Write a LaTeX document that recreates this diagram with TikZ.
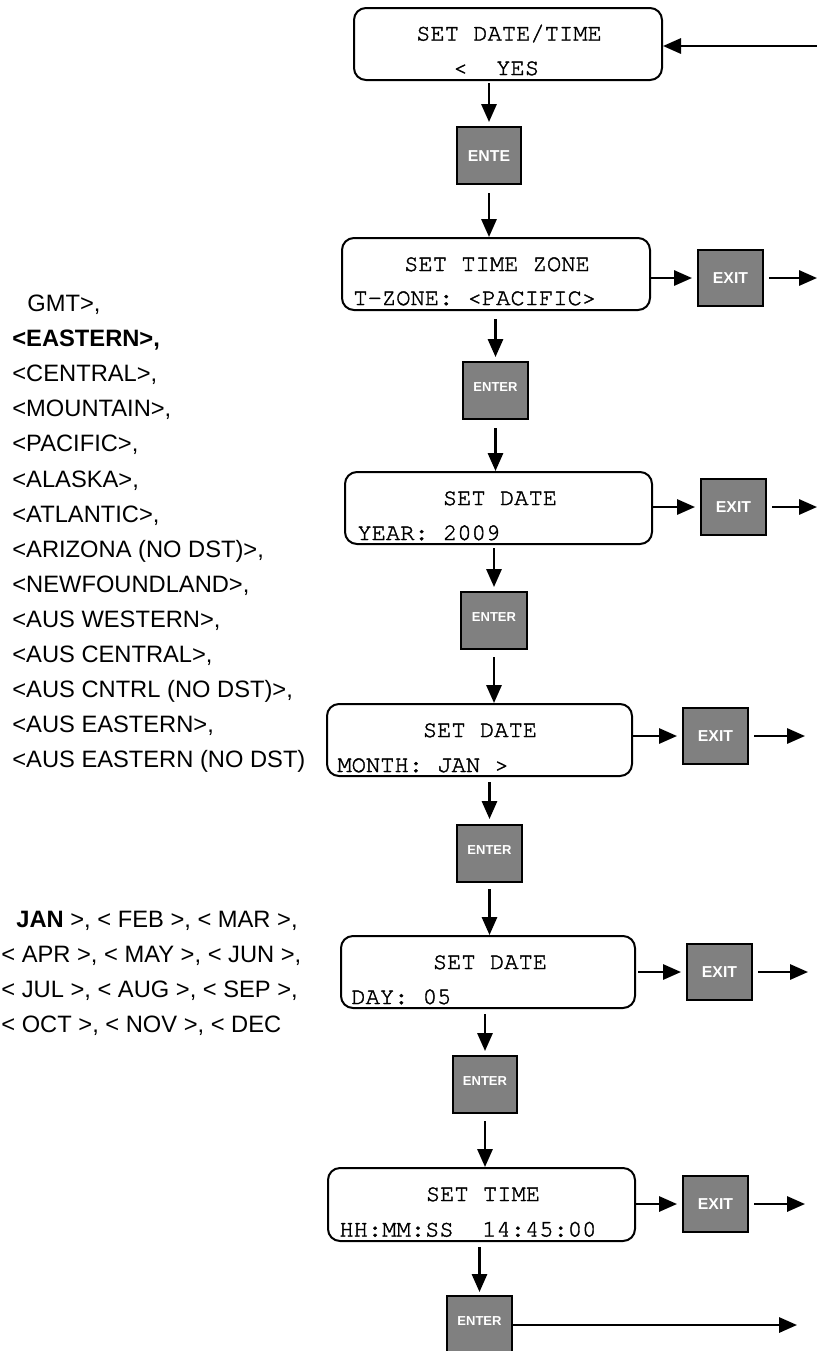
\documentclass[tikz,border=0pt]{standalone}
\usepackage{fontspec}
\setmainfont{Liberation Sans}
\newfontfamily\lcdfont[FakeBold=1.6]{texgyrecursor-regular.otf}
\usetikzlibrary{arrows.meta}
\definecolor{btngray}{RGB}{128,128,128}
\begin{document}
\begin{tikzpicture}[x=0.5pt,y=-0.5pt,
  lcd/.style={draw=black,line width=1pt,rounded corners=6pt,inner sep=0pt,fill=white,minimum height=36pt},
  lcdtxt/.style={font=\lcdfont\fontsize{11.9pt}{14pt}\selectfont,inner sep=0pt,anchor=base},
  lcdtxtl/.style={lcdtxt,anchor=base west},
  btn/.style={draw=black,line width=1pt,fill=btngray,inner sep=0pt,minimum width=32.5pt,minimum height=28.5pt,text=white,font=\bfseries\fontsize{7.9pt}{9pt}\selectfont,text height=5.6pt,text depth=0pt},
  enterbtn/.style={btn,font=\bfseries\fontsize{6.5pt}{8pt}\selectfont,text height=4.6pt,text depth=4pt},
  arr/.style={-{Triangle[length=9pt,width=7.6pt]},line width=1.25pt},
  listtxt/.style={font=\fontsize{11.85pt}{14pt}\selectfont,inner sep=0pt,anchor=base west},
]
\useasboundingbox (0,0) rectangle (817,1351);
\clip (0,0) rectangle (817,1351);

% LCD boxes
\node[lcd,minimum width=154pt] (b1) at (508,44) {};
\node[lcdtxt] (t1a) at (509,40.5) {SET DATE/TIME};
\node[lcdtxtl] (t1b) at (453,75) {<\ \ YES};

\node[lcd,minimum width=154pt] (b2) at (496,274) {};
\node[lcdtxt] (t2a) at (497,271) {SET TIME ZONE};
\node[lcdtxtl] (t2b) at (353,305) {T-ZONE: <PACIFIC>};

\node[lcd,minimum width=153.5pt] (b3) at (498.5,508) {};
\node[lcdtxt] (t3a) at (500,505) {SET DATE};
\node[lcdtxtl] (t3b) at (357,540) {YEAR: 2009};

\node[lcd,minimum width=152.5pt] (b4) at (479.5,740) {};
\node[lcdtxt] (t4a) at (480,737) {SET DATE};
\node[lcdtxtl] (t4b) at (337,772) {MONTH: JAN >};

\node[lcd,minimum width=147pt] (b5) at (488,972) {};
\node[lcdtxt] (t5a) at (490,969) {SET DATE};
\node[lcdtxtl] (t5b) at (351,1004) {DAY: 05};

\node[lcd,minimum width=153.5pt,minimum height=36.5pt] (b6) at (481.5,1204.5) {};
\node[lcdtxt] (t6a) at (483,1201) {SET TIME};
\node[lcdtxtl] (t6b) at (339,1236.5) {HH:MM:SS\ \ 14:45:00};

% ENTER buttons
\node[btn,minimum width=32pt] (n1) at (489,155.5) {ENTE};
\node[enterbtn] (n2) at (495.5,390.5) {ENTER};
\node[enterbtn,minimum width=33pt] (n3) at (494,620.5) {ENTER};
\node[enterbtn] (n4) at (489.5,853.5) {ENTER};
\node[enterbtn,minimum width=32pt] (n5) at (485,1084.5) {ENTER};
\node[enterbtn] (n6) at (479.5,1324.5) {ENTER};

% EXIT buttons
\node[btn,minimum height=28pt] (e2) at (730.5,278) {EXIT};
\node[btn,minimum height=28pt] (e3) at (733.5,507) {EXIT};
\node[btn,minimum height=28pt] (e4) at (715.5,736) {EXIT};
\node[btn,minimum height=28pt] (e5) at (719.5,972) {EXIT};
\node[btn,minimum height=28pt] (e6) at (715.5,1204) {EXIT};

% free ends
\coordinate (c0) at (817,46);
\coordinate (x2) at (817,278);
\coordinate (x3) at (817,507);
\coordinate (x4) at (805,736);
\coordinate (x5) at (808,972);
\coordinate (x6) at (805,1204);
\coordinate (x7) at (797,1325);

% arrows
\draw[arr] (c0) -- (c0 -| b1.east);
\draw[arr,shorten <=1pt,shorten >=2pt] (b1.south -| n1.north) -- (n1.north);
\draw[arr,shorten <=4pt] (n1.south) -- (n1.south |- b2.north);
\draw[arr,shorten <=4pt,shorten >=2pt] (b2.south -| n2.north) -- (n2.north);
\draw[arr,shorten <=4pt] (n2.south) -- (n2.south |- b3.north);
\draw[arr,shorten <=1.5pt,shorten >=2pt] (b3.south -| n3.north) -- (n3.north);
\draw[arr,shorten <=3.5pt] (n3.south) -- (n3.south |- b4.north);
\draw[arr,shorten <=2.5pt,shorten >=2.5pt] (b4.south -| n4.north) -- (n4.north);
\draw[arr,shorten <=3pt] (n4.south) -- (n4.south |- b5.north);
\draw[arr,shorten <=2.5pt,shorten >=2pt] (b5.south -| n5.north) -- (n5.north);
\draw[arr,shorten <=3.5pt] (n5.south) -- (n5.south |- b6.north);
\draw[arr,shorten <=2.5pt,shorten >=1.5pt] (b6.south -| n6.north) -- (n6.north);
\draw[arr] (n6.east |- x7) -- (x7);

\draw[arr,shorten <=-1pt,shorten >=2.5pt] (b2.east |- e2.west) -- (e2.west);
\draw[arr,shorten <=2.5pt] (e2.east) -- (x2);
\draw[arr,shorten <=-1pt,shorten >=2.5pt] (b3.east |- e3.west) -- (e3.west);
\draw[arr,shorten <=2.5pt] (e3.east) -- (x3);
\draw[arr,shorten >=2.5pt] (b4.east |- e4.west) -- (e4.west);
\draw[arr,shorten <=2.5pt] (e4.east) -- (x4);
\draw[arr,shorten <=1pt,shorten >=2.5pt] (b5.east |- e5.west) -- (e5.west);
\draw[arr,shorten <=2.5pt] (e5.east) -- (x5);
\draw[arr,shorten <=-1pt,shorten >=2.5pt] (b6.east |- e6.west) -- (e6.west);
\draw[arr,shorten <=2.5pt] (e6.east) -- (x6);

% time zone list
\node[listtxt] (z1) at (27,311.5) {GMT>,};
\node[listtxt] (z2) at (12,346.6) {\textbf{<EASTERN>,}};
\node[listtxt] (z3) at (12,381.7) {<CENTRAL>,};
\node[listtxt] (z4) at (12,416.8) {<MOUNTAIN>,};
\node[listtxt] (z5) at (12,451.9) {<PACIFIC>,};
\node[listtxt] (z6) at (12,487.0) {<ALASKA>,};
\node[listtxt] (z7) at (12,522.1) {<ATLANTIC>,};
\node[listtxt] (z8) at (12,557.2) {<ARIZONA (NO DST)>,};
\node[listtxt] (z9) at (12,592.3) {<NEWFOUNDLAND>,};
\node[listtxt] (z10) at (12,627.4) {<AUS WESTERN>,};
\node[listtxt] (z11) at (12,662.5) {<AUS CENTRAL>,};
\node[listtxt] (z12) at (12,697.6) {<AUS CNTRL (NO DST)>,};
\node[listtxt] (z13) at (12,732.7) {<AUS EASTERN>,};
\node[listtxt] (z14) at (12,767.8) {<AUS EASTERN (NO DST)};

% month list
\node[listtxt] (m1) at (16,927) {\textbf{JAN} >, < FEB >, < MAR >,};
\node[listtxt] (m2) at (1,962) {< APR >, < MAY >, < JUN >,};
\node[listtxt] (m3) at (1,997) {< JUL >, < AUG >, < SEP >,};
\node[listtxt] (m4) at (1,1032) {< OCT >, < NOV >, < DEC};
\end{tikzpicture}
\end{document}
